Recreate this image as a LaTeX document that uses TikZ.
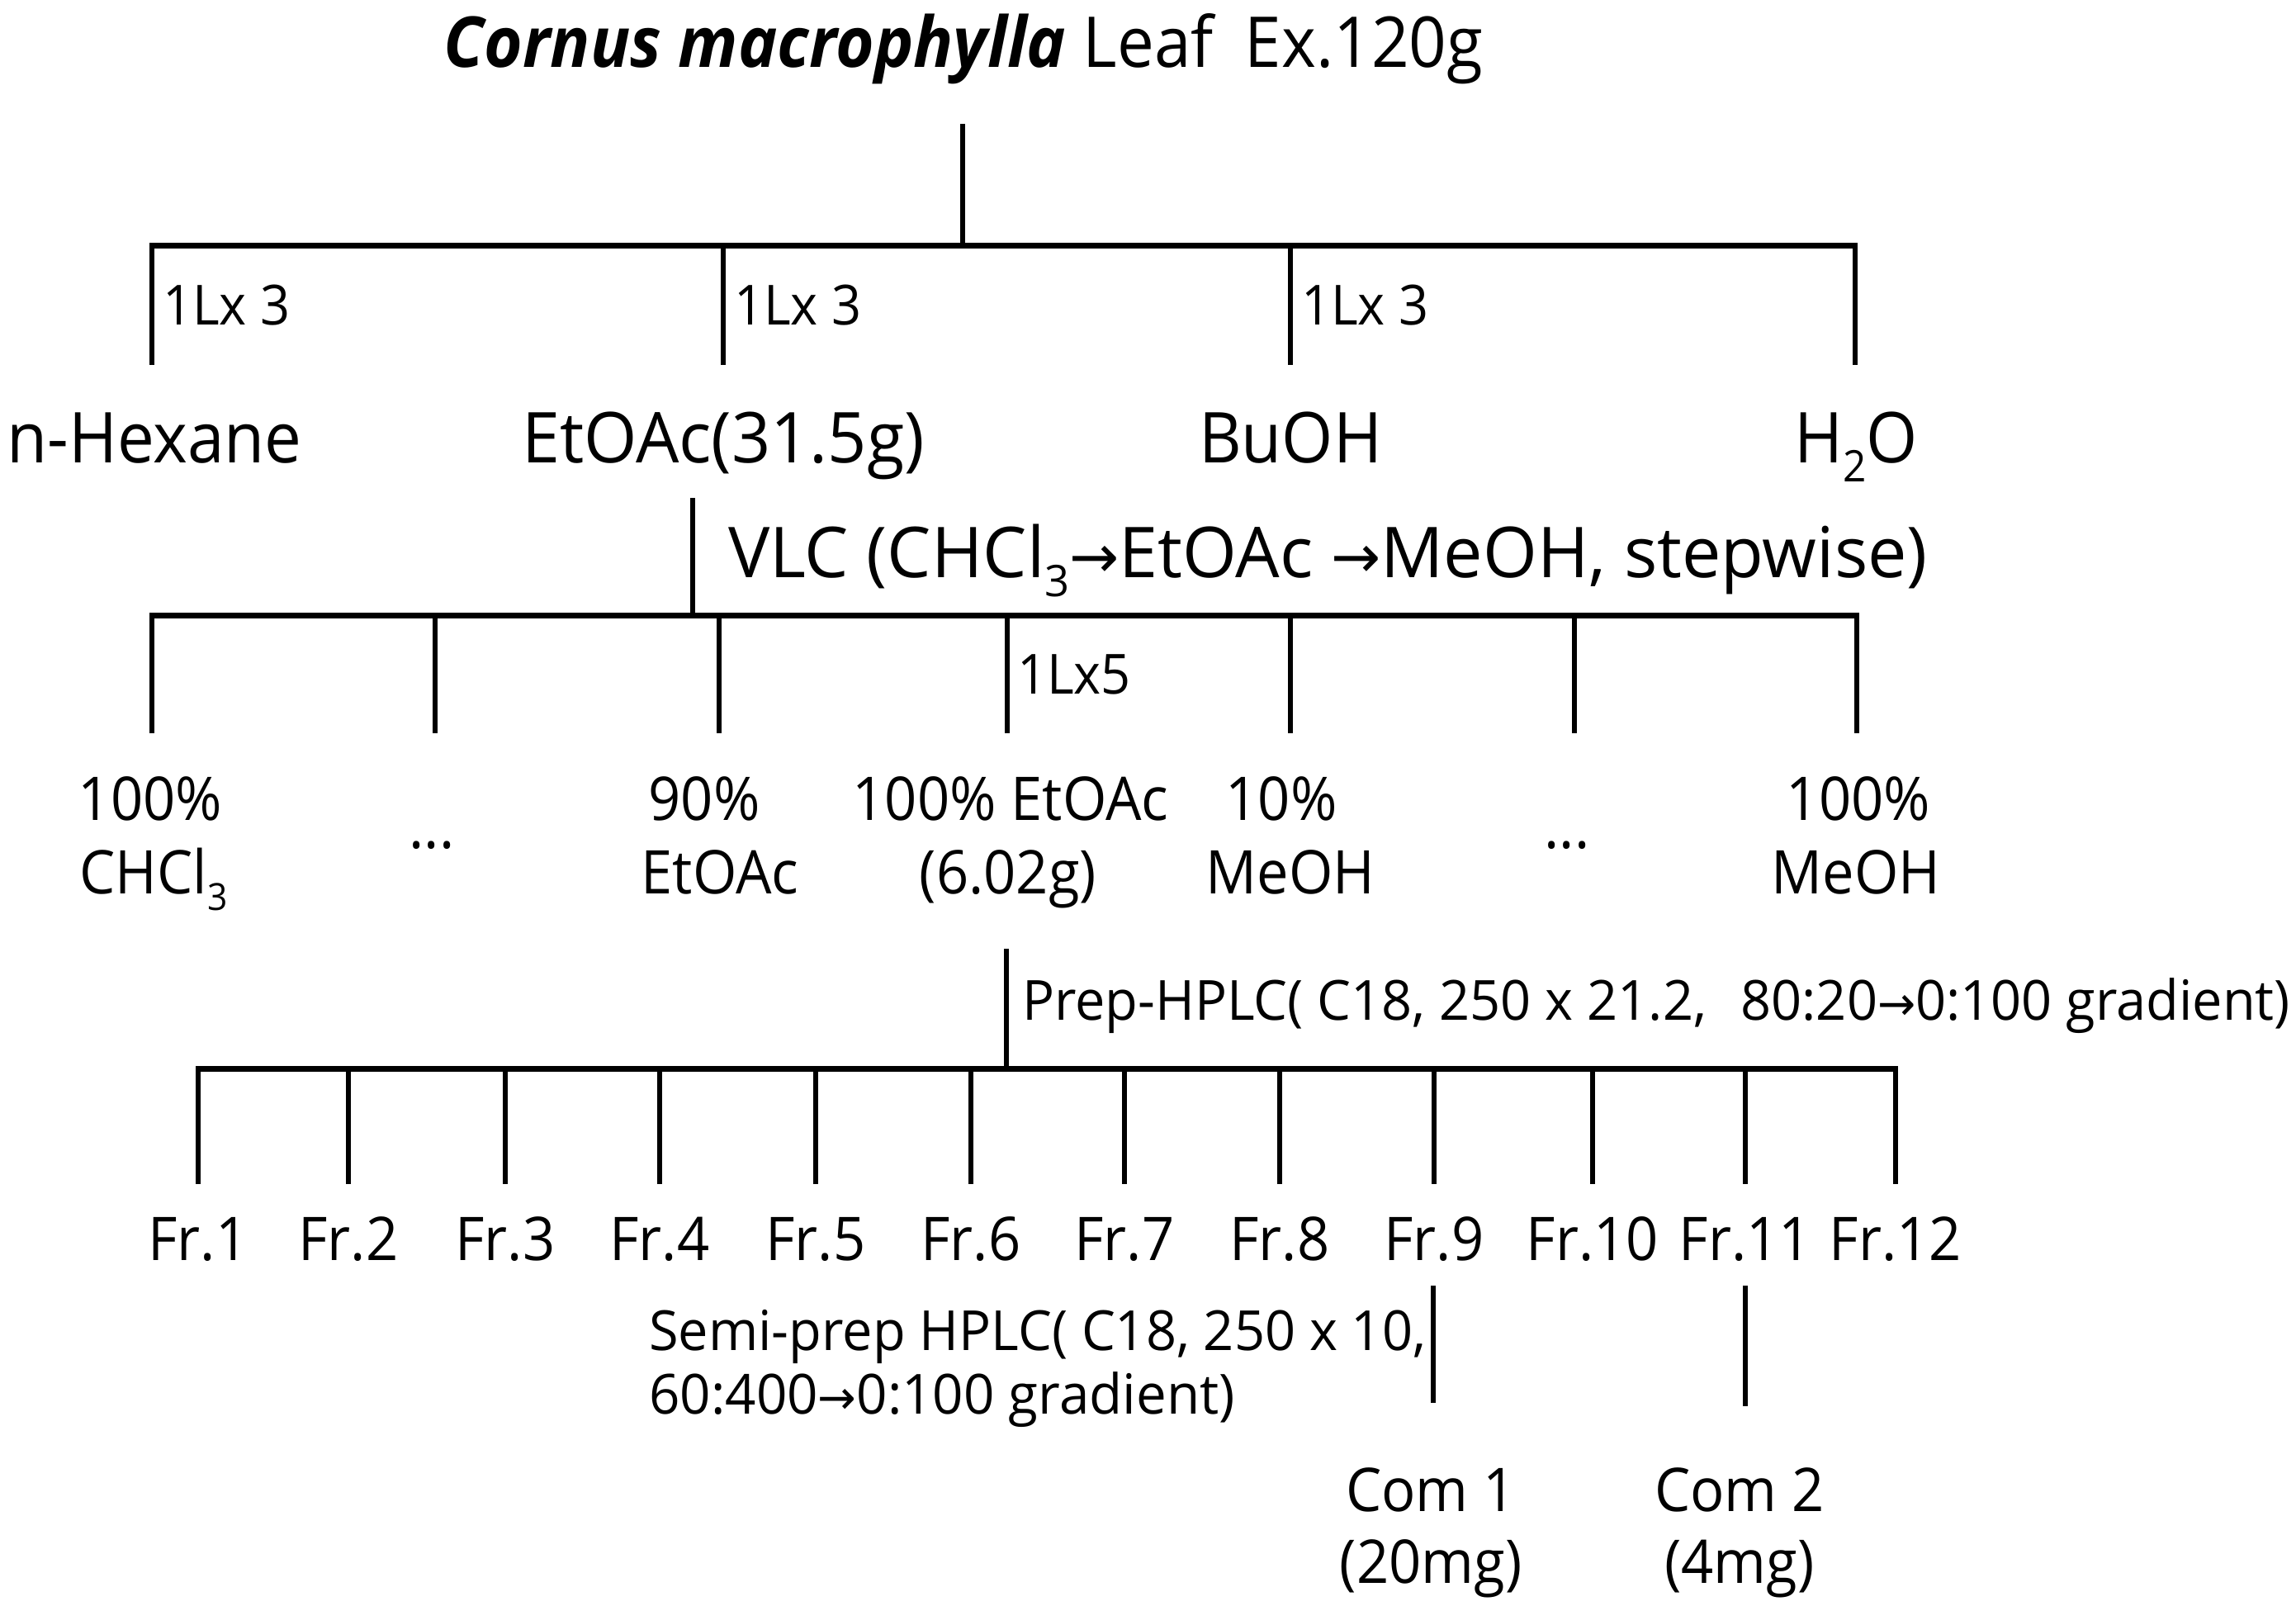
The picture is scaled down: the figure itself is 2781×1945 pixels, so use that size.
\documentclass[tikz,border=0pt]{standalone}
\usepackage{fontspec}
\setmainfont{Open Sans}[FakeStretch=0.94]
\newfontfamily\arrowfont{DejaVu Sans}[FakeStretch=0.94]
\newcommand\myfs[1]{\fontsize{#1}{#1}\selectfont}
\newcommand\mysub[1]{\raisebox{-0.28em}{\scalebox{0.62}{#1}}}
\newcommand\myarr{{\arrowfont\scalebox{0.85}{→}}}
\newcommand\hstretch[2]{\scalebox{#1}[1]{#2}}
\begin{document}
\begin{tikzpicture}[x=1pt,y=-1pt,
  lbl/.style={inner sep=0pt,anchor=base},
  lblw/.style={inner sep=0pt,anchor=base west},
  fbig/.style={font=\myfs{85}},
  fmid/.style={font=\myfs{73}},
  fsml/.style={font=\myfs{67}},
  tree/.style={line width=6.5pt},
  barline/.style={line width=7pt}]
\useasboundingbox (0,0) rectangle (2781,1945);

% ---------- title ----------
\node[lbl,fbig] (title) at (1167,82) {\textbf{\textit{Cornus macrophylla}} Leaf\hspace{0.45em}Ex.120g};
\coordinate (t0) at (1166,150);
\coordinate (t1) at (1166,297);
\draw[tree] (t0) -- (t1);

% ---------- first split ----------
\coordinate (b1l) at (181,297);
\coordinate (b1r) at (2250,297);
\draw[barline] (b1l) -- (b1r);
\foreach \x [count=\i] in {184,876,1563,2247}{
  \coordinate (p\i) at (\x,297);
  \coordinate (pe\i) at (\x,442);
  \draw[tree] (p\i) -- (pe\i);
}
\node[lblw,fsml] (l1) at (197,393) {1Lx 3};
\node[lblw,fsml] (l2) at (889,393) {1Lx 3};
\node[lblw,fsml] (l3) at (1576,393) {1Lx 3};

\node[lbl,fbig] (hex) at (187,560) {n-Hexane};
\node[lbl,fbig] (eto) at (876,560) {\hstretch{1.035}{EtOAc(31.5g)}};
\node[lbl,fbig] (buo) at (1563,560) {BuOH};
\node[lbl,fbig] (wat) at (2248,560) {H\mysub{2}O};

% ---------- VLC ----------
\coordinate (v0) at (839,603);
\coordinate (v1) at (839,745);
\draw[tree] (v0) -- (v1);
\node[lblw,fbig] (vlc) at (882,699) {\hstretch{1.058}{VLC (CHCl\mysub{3}\myarr EtOAc \myarr MeOH, stepwise)}};

\coordinate (b2l) at (181,745);
\coordinate (b2r) at (2252,745);
\draw[barline] (b2l) -- (b2r);
\foreach \x [count=\i] in {184,527,871,1220,1563,1907,2249}{
  \coordinate (q\i) at (\x,745);
  \coordinate (qe\i) at (\x,888);
  \draw[tree] (q\i) -- (qe\i);
}
\node[lblw,fsml] (l5) at (1232,840) {1Lx5};

\node[lbl,fmid] (c1a) at (182,993) {100\%};
\node[lbl,fmid] (c1b) at (186,1082) {CHCl\mysub{3}};
\node[lbl,fmid] (c2) at (523,1027) {...};
\node[lbl,fmid] (c3a) at (853,993) {90\%};
\node[lbl,fmid] (c3b) at (872,1082) {EtOAc};
\node[lbl,fmid] (c4a) at (1224,993) {100\% EtOAc};
\node[lbl,fmid] (c4b) at (1221,1082) {(6.02g)};
\node[lbl,fmid] (c5a) at (1552,993) {10\%};
\node[lbl,fmid] (c5b) at (1563,1082) {MeOH};
\node[lbl,fmid] (c6) at (1898,1027) {...};
\node[lbl,fmid] (c7a) at (2251,993) {100\%};
\node[lbl,fmid] (c7b) at (2248,1082) {MeOH};

% ---------- Prep-HPLC ----------
\coordinate (h0) at (1219,1149);
\coordinate (h1) at (1219,1294);
\draw[tree] (h0) -- (h1);
\node[lblw,fsml] (prep) at (1238,1235) {\hstretch{1.03}{Prep-HPLC( C18, 250 x 21.2,\hspace{0.6em}80:20\myarr 0:100 gradient)}};

\coordinate (b3l) at (237,1294);
\coordinate (b3r) at (2299,1294);
\draw[barline] (b3l) -- (b3r);
\foreach \x [count=\i] in {240,422,612,799,988,1176,1362,1550,1737,1929,2114,2296}{
  \coordinate (r\i) at (\x,1294);
  \coordinate (re\i) at (\x,1434);
  \draw[tree] (r\i) -- (re\i);
  \node[lbl,fmid] (fr\i) at (\x,1526) {Fr.\i};
}

% ---------- Semi-prep ----------
\coordinate (s9a) at (1736,1557);
\coordinate (s9b) at (1736,1699);
\draw[tree] (s9a) -- (s9b);
\coordinate (s11a) at (2114,1557);
\coordinate (s11b) at (2114,1703);
\draw[tree] (s11a) -- (s11b);
\node[lblw,fsml] (semi1) at (786,1635) {\hstretch{1.03}{Semi-prep HPLC( C18, 250 x 10,}};
\node[lblw,fsml] (semi2) at (786,1712) {\hstretch{1.04}{60:400\myarr 0:100 gradient)}};

\node[lbl,fmid] (com1a) at (1733,1830) {Com 1};
\node[lbl,fmid] (com1b) at (1733,1917) {(20mg)};
\node[lbl,fmid] (com2a) at (2107,1830) {Com 2};
\node[lbl,fmid] (com2b) at (2107,1917) {(4mg)};
\end{tikzpicture}
\end{document}
